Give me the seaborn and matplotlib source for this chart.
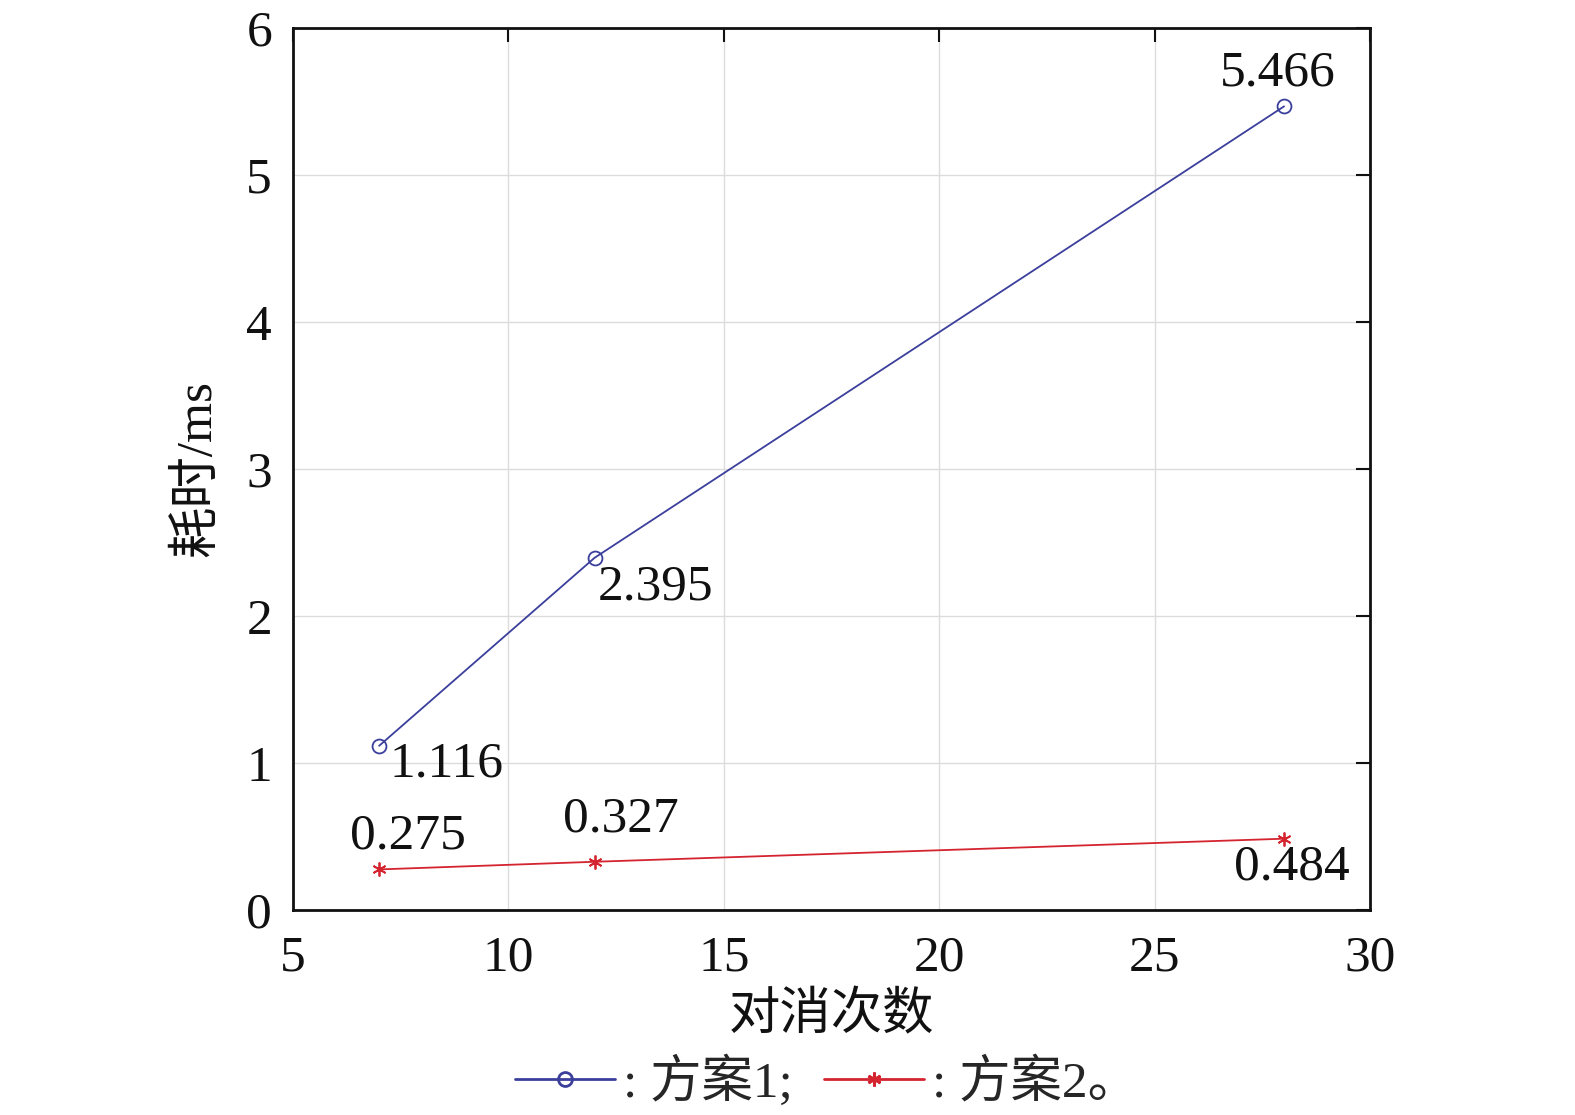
import pandas as pd
import matplotlib
matplotlib.use("Agg")
import matplotlib.pyplot as plt
import seaborn as sns
from matplotlib.lines import Line2D

# chart data
counts = [7, 12, 28]
plan1_ms = [1.116, 2.395, 5.466]
plan2_ms = [0.275, 0.327, 0.484]
plan_names = ["方案1", "方案2"]

df = pd.DataFrame({
    "对消次数": counts * 2,
    "耗时": plan1_ms + plan2_ms,
    "方案": [plan_names[0]] * 3 + [plan_names[1]] * 3,
})

sns.set_theme(style="white")
plt.rcParams["font.family"] = ["Liberation Serif", "Noto Sans CJK SC", "DejaVu Sans"]

blue = "#3b3f9c"
red = "#d42430"

fig = plt.figure(figsize=(15.75, 11.15), dpi=100)
ax = fig.add_axes([0.186, 0.184, 0.684, 0.791])

sns.lineplot(data=df[df["方案"] == plan_names[0]], x="对消次数", y="耗时", ax=ax,
             color=blue, lw=1.3, marker="o", markersize=10, markerfacecolor="none",
             markeredgecolor=blue, markeredgewidth=1.3)
sns.lineplot(data=df[df["方案"] == plan_names[1]], x="对消次数", y="耗时", ax=ax,
             color=red, lw=1.3, marker=(6, 2, 0), markersize=10,
             markeredgecolor=red, markeredgewidth=1.3)

# value labels
offsets1 = [(10, -18, "left"), (3, -29, "left"), (-6, 33, "center")]
offsets2 = [(29, 33, "center"), (26, 43, "center"), (8, -29, "center")]
for x, y, (dx, dy, ha) in zip(counts, plan1_ms, offsets1):
    ax.annotate(f"{y:.3f}", (x, y), xytext=(dx, dy), textcoords="offset pixels",
                ha=ha, va="center", fontsize=37, color="#111111")
for x, y, (dx, dy, ha) in zip(counts, plan2_ms, offsets2):
    ax.annotate(f"{y:.3f}", (x, y), xytext=(dx, dy), textcoords="offset pixels",
                ha=ha, va="center", fontsize=37, color="#111111")

ax.set_xlim(5, 30)
ax.set_ylim(0, 6)
ax.set_xticks([5, 10, 15, 20, 25, 30])
ax.set_yticks([0, 1, 2, 3, 4, 5, 6])
ax.grid(True, color="#dcdcdc", lw=1.0)
ax.tick_params(direction="in", length=10, width=1.5, labelsize=37,
               top=True, right=True, colors="#111111")
ax.tick_params(axis="x", pad=18)
ax.tick_params(axis="y", pad=15)
for s in ax.spines.values():
    s.set_linewidth(2.0)
    s.set_color("#111111")

ax.set_xlabel("对消次数", fontsize=37, labelpad=8, color="#111111")
ax.set_ylabel("耗时/ms", fontsize=37, labelpad=18, color="#111111")

handles = [
    Line2D([], [], color=blue, lw=2, marker="o", markersize=10, markerfacecolor="none",
           markeredgewidth=2),
    Line2D([], [], color=red, lw=2, marker=(6, 2, 0), markersize=10, markeredgewidth=2),
]
fig.legend(handles, [": " + plan_names[0] + ";", ": " + plan_names[1] + "。"],
           loc="lower center", bbox_to_anchor=(0.525, -0.035), ncol=2, frameon=False,
           fontsize=37, handlelength=1.95, handletextpad=0.15, columnspacing=0.6)

fig.savefig("out.png", dpi=100)
